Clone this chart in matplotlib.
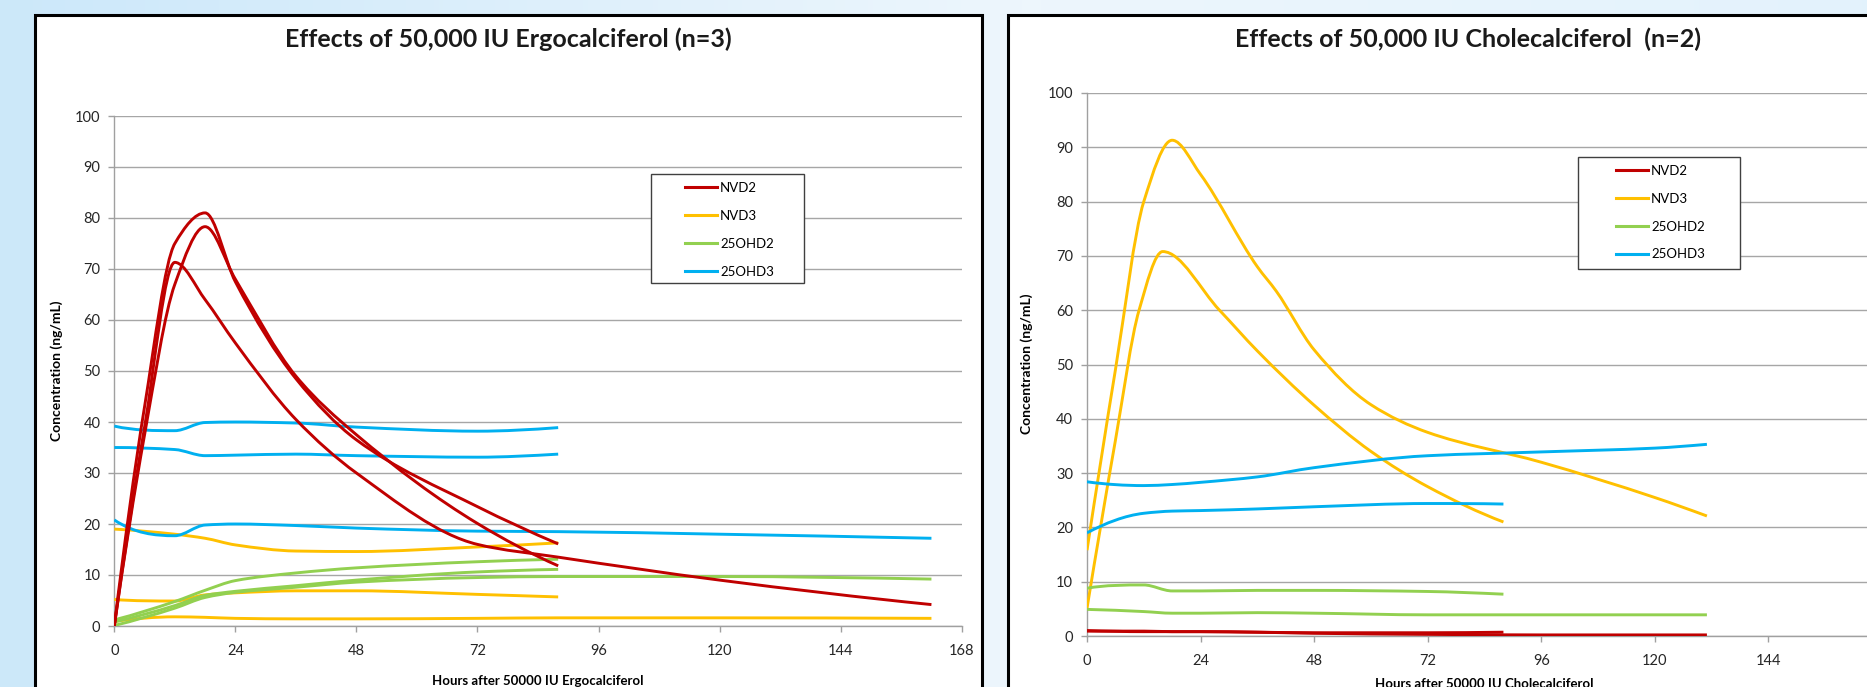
import numpy as np
import matplotlib
matplotlib.use('Agg')
import matplotlib.pyplot as plt
from matplotlib.path import Path
from matplotlib.patches import PathPatch, Rectangle
from matplotlib.lines import Line2D

plt.rcParams['font.family'] = ['Lato', 'DejaVu Sans']

# ---- data: Ergocalciferol (n=3) ----
hrs_e_short = [0, 12, 18, 24, 36, 48, 72, 88]
hrs_e_long = [0, 12, 18, 24, 36, 48, 72, 88, 120, 162]
hrs_e_red_short = [0, 6, 12, 18, 24, 36, 48, 72, 88]
hrs_e_red_long = [0, 6, 12, 18, 24, 36, 48, 72, 88, 120, 162]

e_nvd2_a = [0, 43, 75, 81, 67.5, 48.5, 36.5, 23.4, 16.1]
e_nvd2_b = [0, 37.5, 67, 78.3, 68, 49, 37.5, 20.1, 11.8]
e_nvd2_c = [0, 39, 71.3, 64, 55.5, 40.5, 30, 16, 13.5, 9.0, 4.2]
e_nvd3_a = [19.0, 18.0, 17.2, 15.9, 14.7, 14.6, 15.5, 16.3]
e_nvd3_b = [5.2, 4.9, 6.1, 6.5, 6.9, 6.9, 6.2, 5.7]
e_nvd3_c = [0.9, 1.8, 1.7, 1.5, 1.4, 1.4, 1.5, 1.6, 1.6, 1.5]
e_25d2_a = [1.2, 4.8, 7.0, 8.9, 10.4, 11.4, 12.6, 13.1]
e_25d2_b = [0.8, 4.0, 6.0, 6.8, 7.9, 9.0, 10.6, 11.1]
e_25d2_c = [0.1, 3.5, 5.6, 6.6, 7.6, 8.6, 9.5, 9.7, 9.7, 9.2]
e_25d3_a = [39.2, 38.3, 39.9, 40.0, 39.8, 39.0, 38.2, 38.9]
e_25d3_b = [35.0, 34.6, 33.4, 33.5, 33.7, 33.4, 33.1, 33.7]
e_25d3_c = [20.8, 17.7, 19.8, 20.0, 19.7, 19.2, 18.6, 18.5, 18.0, 17.2]

# ---- data: Cholecalciferol (n=2) ----
hrs_c_short = [0, 12, 18, 24, 36, 48, 72, 88]
hrs_c_long = [0, 12, 18, 24, 36, 48, 72, 96, 120, 131]
hrs_c_nvd3_a = [0, 6, 11, 16, 28, 36, 48, 60, 72, 88]
hrs_c_nvd3_b = [0, 6, 12, 18, 24, 36, 40, 48, 60, 72, 96, 120, 131]

c_nvd2_a = [1.0, 0.8, 0.8, 0.8, 0.7, 0.6, 0.6, 0.7]
c_nvd2_b = [0.9, 0.9, 0.8, 0.8, 0.7, 0.5, 0.3, 0.2, 0.2, 0.2]
c_nvd3_a = [5.1, 36, 60, 70.8, 60, 52.5, 42.5, 34, 27.5, 21.0]
c_nvd3_b = [15.8, 49, 80, 91.3, 85, 68, 63.5, 52.7, 42.6, 37.5, 32, 25.5, 22.1]
c_25d2_a = [8.8, 9.4, 8.3, 8.3, 8.4, 8.4, 8.2, 7.7]
c_25d2_b = [4.9, 4.5, 4.2, 4.2, 4.3, 4.2, 3.9, 3.9, 3.9, 3.9]
c_25d3_a = [19.0, 22.6, 23.0, 23.1, 23.4, 23.8, 24.4, 24.3]
c_25d3_b = [28.4, 27.7, 27.9, 28.3, 29.3, 31.0, 33.2, 33.9, 34.6, 35.3]

labels = ['NVD2', 'NVD3', '25OHD2', '25OHD3']
colors = ['#C00000', '#FFC000', '#92D050', '#00B0F0']

W, H = 1867, 687


def shape_slopes(x, y):
    # monotone (pchip-like) slopes so peaks do not overshoot
    h = np.diff(x)
    d = np.diff(y) / h
    n = len(x)
    m = np.zeros(n)
    for k in range(1, n - 1):
        if d[k - 1] * d[k] > 0:
            w1 = 2 * h[k] + h[k - 1]
            w2 = h[k] + 2 * h[k - 1]
            m[k] = (w1 + w2) / (w1 / d[k - 1] + w2 / d[k])

    def end(h0, h1, d0, d1):
        mm = ((2 * h0 + h1) * d0 - h0 * d1) / (h0 + h1)
        if np.sign(mm) != np.sign(d0):
            mm = 0.0
        elif np.sign(d0) != np.sign(d1) and abs(mm) > abs(3 * d0):
            mm = 3 * d0
        return mm
    m[0] = end(h[0], h[1], d[0], d[1])
    m[-1] = end(h[-1], h[-2], d[-1], d[-2])
    return m


def smooth_line(ax, x, y, color):
    x = np.asarray(x, float)
    y = np.asarray(y, float)
    m = shape_slopes(x, y)
    verts = [(x[0], y[0])]
    codes = [Path.MOVETO]
    for i in range(len(x) - 1):
        h = x[i + 1] - x[i]
        verts += [(x[i] + h / 3, y[i] + m[i] * h / 3),
                  (x[i + 1] - h / 3, y[i + 1] - m[i + 1] * h / 3),
                  (x[i + 1], y[i + 1])]
        codes += [Path.CURVE4] * 3
    ax.add_patch(PathPatch(Path(verts, codes), fill=False, edgecolor=color,
                           lw=2.1, joinstyle='round', capstyle='butt', zorder=3))


def style_axes(ax):
    ax.set_facecolor('none')
    ax.set_xlim(0, 168)
    ax.set_ylim(0, 100)
    ax.set_xticks(range(0, 169, 24))
    ax.set_yticks(range(0, 101, 10))
    ax.grid(axis='y', color='#a6a6a6', lw=1.0)
    ax.set_axisbelow(True)
    for s in ['top', 'right']:
        ax.spines[s].set_visible(False)
    for s in ['left', 'bottom']:
        ax.spines[s].set_color('#a0a0a0')
        ax.spines[s].set_linewidth(1.0)
    ax.tick_params(axis='both', direction='out', length=4, width=1, color='#a0a0a0',
                   labelsize=10.5, labelcolor='#262626')
    ax.tick_params(axis='x', pad=9)
    ax.tick_params(axis='y', pad=6)


fig = plt.figure(figsize=(W / 100, H / 100), dpi=100)

# background + panels (pixel coordinates)
bg = fig.add_axes([0, 0, 1, 1], zorder=-10)
bg.set_xlim(0, W)
bg.set_ylim(H, 0)
bg.axis('off')
gx = np.linspace(0, 1, 400)
stops = [0, 0.55, 1]
grad = np.zeros((1, 400, 3))
for k, (c0, c1, c2) in enumerate([(0.80, 0.93, 0.89), (0.91, 0.965, 0.95), (0.98, 0.99, 0.99)]):
    grad[0, :, k] = np.interp(gx, stops, [c0, c1, c2])
bg.imshow(grad, extent=[0, W, H, 0], aspect='auto')
bg.add_patch(Rectangle((35, 15), 947, 700, facecolor='white', edgecolor='black', lw=2.2))
bg.add_patch(Rectangle((1008, 15), 1000, 700, facecolor='white', edgecolor='black', lw=2.2))

axL = fig.add_axes([114.3 / W, (H - 626) / H, 847.4 / W, 510 / H])
axR = fig.add_axes([1087 / W, (H - 636) / H, 795 / W, 543 / H])
style_axes(axL)
style_axes(axR)

# left chart
for hrs, vals, c in [
    (hrs_e_short, e_nvd3_a, colors[1]), (hrs_e_short, e_nvd3_b, colors[1]), (hrs_e_long, e_nvd3_c, colors[1]),
    (hrs_e_short, e_25d2_a, colors[2]), (hrs_e_short, e_25d2_b, colors[2]), (hrs_e_long, e_25d2_c, colors[2]),
    (hrs_e_short, e_25d3_a, colors[3]), (hrs_e_short, e_25d3_b, colors[3]), (hrs_e_long, e_25d3_c, colors[3]),
    (hrs_e_red_short, e_nvd2_a, colors[0]), (hrs_e_red_short, e_nvd2_b, colors[0]),
    (hrs_e_red_long, e_nvd2_c, colors[0]),
]:
    smooth_line(axL, hrs, vals, c)

# right chart
for hrs, vals, c in [
    (hrs_c_nvd3_a, c_nvd3_a, colors[1]), (hrs_c_nvd3_b, c_nvd3_b, colors[1]),
    (hrs_c_short, c_25d2_a, colors[2]), (hrs_c_long, c_25d2_b, colors[2]),
    (hrs_c_short, c_25d3_a, colors[3]), (hrs_c_long, c_25d3_b, colors[3]),
    (hrs_c_short, c_nvd2_a, colors[0]), (hrs_c_long, c_nvd2_b, colors[0]),
]:
    smooth_line(axR, hrs, vals, c)

# titles and axis labels
bg.text(508, 39, 'Effects of 50,000 IU Ergocalciferol (n=3)', ha='center', va='center',
        fontsize=18, fontweight='bold', color='#1a1a1a')
bg.text(1468, 39, 'Effects of 50,000 IU Cholecalciferol  (n=2)', ha='center', va='center',
        fontsize=18, fontweight='bold', color='#1a1a1a')
bg.text(57, 371, 'Concentration (ng/mL)', rotation=90, ha='center', va='center',
        fontsize=10, fontweight='bold', color='black')
bg.text(1027, 364, 'Concentration (ng/mL)', rotation=90, ha='center', va='center',
        fontsize=10, fontweight='bold', color='black')
bg.text(538, 675, 'Hours after 50000 IU Ergocalciferol', ha='center', va='top',
        fontsize=9.5, fontweight='bold', color='black')
bg.text(1484, 678, 'Hours after 50000 IU Cholecalciferol', ha='center', va='top',
        fontsize=9.5, fontweight='bold', color='black')

# legends: boxed, with line handles
handles = [Line2D([], [], color=c, lw=2.2, label=l) for c, l in zip(colors, labels)]
for (bx, by, bw, bh), (hx, hy) in [((651, 174, 153, 109), (685, 182)),
                                   ((1578, 157, 162, 112), (1616, 165))]:
    fig.add_artist(Rectangle((bx / W, 1 - (by + bh) / H), bw / W, bh / H, transform=fig.transFigure,
                             facecolor='white', edgecolor='#404040', lw=1, zorder=4))
    fig.legend(handles=handles, loc='upper left', bbox_to_anchor=(hx / W, 1 - hy / H),
               frameon=False, borderpad=0, handlelength=2.4, handletextpad=0.25,
               labelspacing=1.2, prop={'size': 9.5}, borderaxespad=0).set_zorder(5)

fig.savefig('out.png', dpi=100)
